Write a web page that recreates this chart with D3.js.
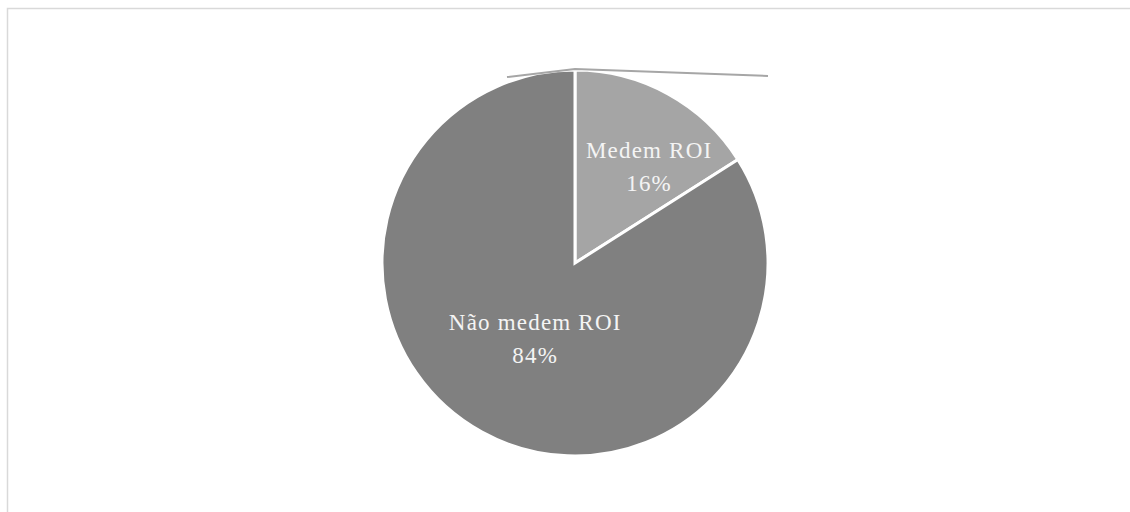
<!DOCTYPE html>
<html>
<head>
<meta charset="utf-8">
<script src="https://cdn.jsdelivr.net/npm/d3@7"></script>
<style>
  html, body { margin: 0; padding: 0; background: #ffffff; }
  svg { display: block; }
</style>
</head>
<body>
<svg id="chart" width="1130" height="512"></svg>
<script>
const categories = ["Medem ROI", "Não medem ROI"];
const values = [16, 84];
const percentLabels = ["16%", "84%"];
const colors = ["#a5a5a5", "#808080"];

const W = 1130, H = 512;
const cx = 575, cy = 263, r = 193;
const svg = d3.select("#chart");

// chart border (extends past right/bottom edges)
svg.append("rect")
  .attr("x", 7.5).attr("y", 8.5)
  .attr("width", W + 20).attr("height", H + 20)
  .attr("fill", "none")
  .attr("stroke", "#d9d9d9")
  .attr("stroke-width", 1.5);

const pie = d3.pie().sort(null).value(d => d)(values);
const arc = d3.arc().innerRadius(0).outerRadius(r);

const g = svg.append("g").attr("transform", `translate(${cx},${cy})`);

g.selectAll("path.slice")
  .data(pie)
  .join("path")
  .attr("class", "slice")
  .attr("d", arc)
  .attr("fill", (d, i) => colors[i])
  .attr("stroke", "#ffffff")
  .attr("stroke-width", 3)
  .attr("stroke-linejoin", "miter");

// faint top edge line near the pie top
g.append("path")
  .attr("d", d3.line()([[-68, -r + 7], [0, -r - 1], [r, -r + 6]]))
  .attr("fill", "none")
  .attr("stroke", "#a6a6a6")
  .attr("stroke-width", 2);

// label placement (angle in radians from 12 o'clock, radius)
const labelPos = [
  { angle: 0.659, radius: 121 },
  { angle: 3.623, radius: 86 }
];
const lineGap = 33;

const labels = g.selectAll("text.lbl")
  .data(pie)
  .join("text")
  .attr("class", "lbl")
  .attr("text-anchor", "middle")
  .attr("font-family", "'Liberation Serif', 'Times New Roman', serif")
  .attr("font-size", 23)
  .attr("letter-spacing", 1.2)
  .attr("fill", "#f4f4f4")
  .attr("transform", (d, i) => {
    const p = labelPos[i];
    const x = Math.sin(p.angle) * p.radius;
    const y = -Math.cos(p.angle) * p.radius;
    return `translate(${x},${y})`;
  });

labels.append("tspan")
  .attr("x", 0).attr("y", -lineGap / 2 + 7)
  .text((d, i) => categories[i]);
labels.append("tspan")
  .attr("x", 0).attr("y", lineGap / 2 + 7)
  .text((d, i) => percentLabels[i]);
</script>
</body>
</html>
